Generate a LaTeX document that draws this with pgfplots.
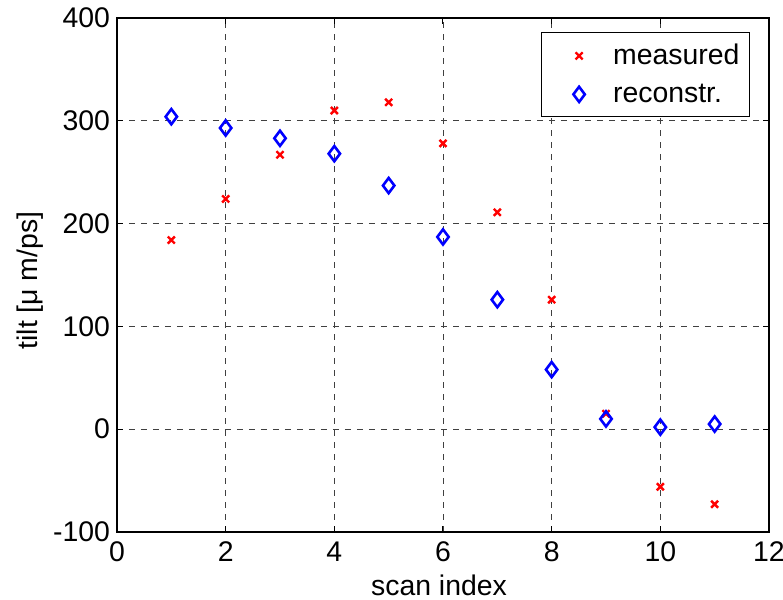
\documentclass[border=0pt]{standalone}
\usepackage{fontspec}
\setmainfont{Liberation Sans}
\usepackage{pgfplots}
\pgfplotsset{compat=1.18}

\pgfplotstableread{
x   y
1   184
2   224
3   267
4   310
5   318
6   278
7   211
8   126
9   15
10  -56
11  -73
}\measured

\pgfplotstableread{
x   y
1   304
2   293
3   283
4   268
5   237
6   187
7   126
8   58
9   10
10  2
11  5
}\reconstr

\newcommand{\chartfont}{\fontsize{14.2}{17}\selectfont}

\begin{document}
\begin{tikzpicture}
\begin{axis}[
  scale only axis,
  width=326pt, height=257pt,
  xmin=0, xmax=12, ymin=-100, ymax=400,
  xtick={0,2,...,12}, ytick={-100,0,...,400},
  tick align=inside,
  major tick length=3pt,
  tick style={black, line width=0.5pt},
  axis line style={black, line width=0.6pt},
  grid=major,
  major grid style={black!75, dash pattern=on 3pt off 3pt, line width=0.45pt},
  font=\chartfont,
  /pgf/number format/assume math mode=true,
  ticklabel style={font=\chartfont},
  xticklabel style={yshift=-1.5pt},
  label style={font=\chartfont},
  xlabel={scan index},
  ylabel={tilt [μ m/ps]},
  xlabel style={at={(axis description cs:0.4939,-0.1245)}, anchor=base},
  ylabel style={at={(axis description cs:-0.1212,0.4893)}, anchor=base},
  legend style={at={(1,1)}, anchor=north east, xshift=-9.5pt, yshift=-7pt,
    draw=black, line width=0.6pt, font=\chartfont,
    inner xsep=3pt, inner ysep=3.75pt, row sep=4pt, cells={anchor=west}},
  legend image code/.code={\path[draw=none] (-16pt,0pt) -- (15pt,0pt);
    \path[#1] plot coordinates {(0pt,0pt)};},
]
\addplot[only marks, mark=x, mark size=2.5pt, red, line width=1.2pt] table[x=x, y=y] {\measured};
\addlegendentry{measured}
\addplot[only marks, mark=diamond, mark size=3.8pt, blue, line width=1.3pt] table[x=x, y=y] {\reconstr};
\addlegendentry{reconstr.}
\end{axis}
\pgfresetboundingbox
\path ([shift={(-58.5pt,-34pt)}]current axis.south west) rectangle ([shift={(7pt,9pt)}]current axis.north east);
\end{tikzpicture}
\end{document}
